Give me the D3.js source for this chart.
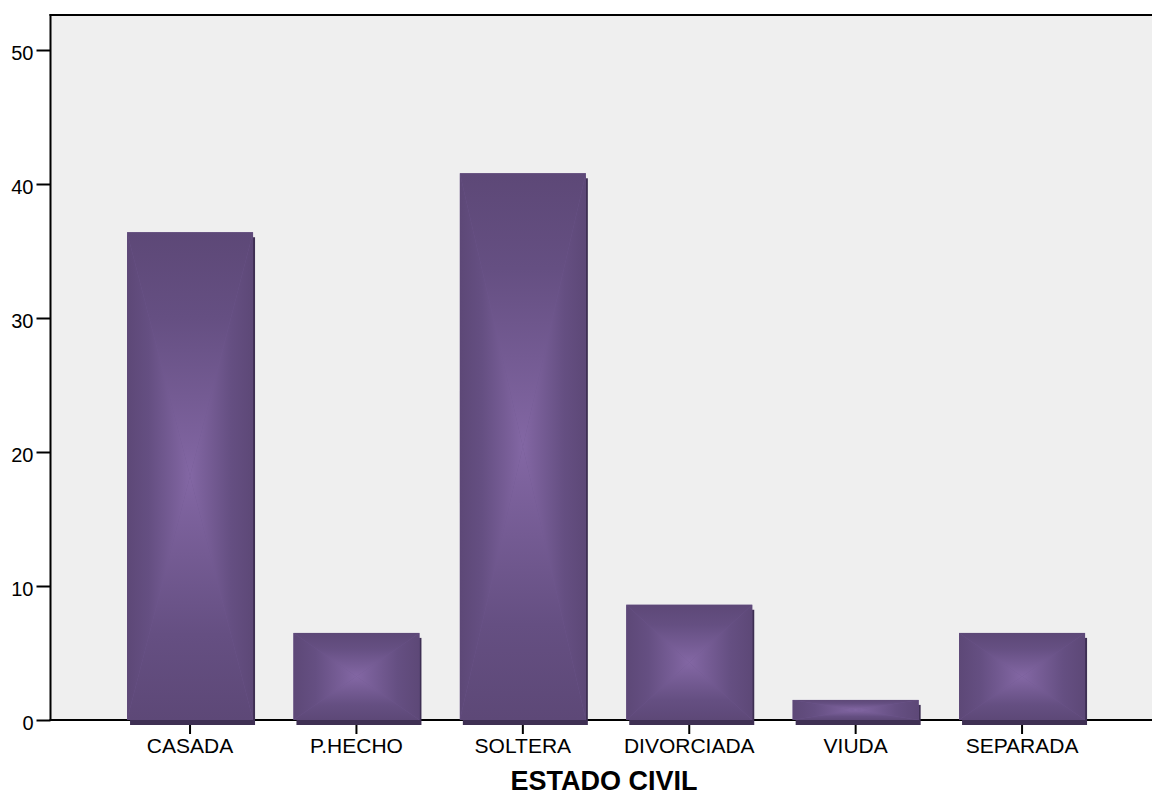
<!DOCTYPE html>
<html>
<head>
<meta charset="utf-8">
<script src="https://cdn.jsdelivr.net/npm/d3@7"></script>
<style>
  html, body { margin: 0; padding: 0; background: #ffffff; }
  svg { display: block; }
  text { font-family: Arial, "Liberation Sans", sans-serif; fill: #000; }
</style>
</head>
<body>
<svg id="chart" width="1152" height="796"></svg>
<script>
// Estado civil: percentage per category
const categories = ["CASADA", "P.HECHO", "SOLTERA", "DIVORCIADA", "VIUDA", "SEPARADA"];
const percentages = [36.4, 6.5, 40.8, 8.6, 1.5, 6.5];
const yTickValues = [0, 10, 20, 30, 40, 50];
const xTitle = "ESTADO CIVIL";

const svg = d3.select("#chart");

const plotLeft = 50.5, plotTop = 15, plotBottom = 720, plotRight = 1161.6, frameRight = 1160;

const x = d3.scaleBand()
  .domain(categories)
  .range([plotLeft, plotRight])
  .paddingInner(0.2428)
  .paddingOuter(0.46);

const y = d3.scaleLinear().domain([0, 50]).range([plotBottom, 50]);

// Pillow-style shading: four triangles, each fading from a dark edge to a light centre
const edgeColor = "#5d4877", midColor = "#6f5790", centerColor = "#8367a4", shadowColor = "#3e2f53";
const defs = svg.append("defs");
const dirs = {
  top:    { x1: 0, y1: 0, x2: 0, y2: 1 },
  bottom: { x1: 0, y1: 1, x2: 0, y2: 0 },
  left:   { x1: 0, y1: 0, x2: 1, y2: 0 },
  right:  { x1: 1, y1: 0, x2: 0, y2: 0 }
};
Object.entries(dirs).forEach(([name, d]) => {
  const g = defs.append("linearGradient")
    .attr("id", "shade-" + name)
    .attr("x1", d.x1).attr("y1", d.y1).attr("x2", d.x2).attr("y2", d.y2);
  g.append("stop").attr("offset", 0).attr("stop-color", edgeColor);
  g.append("stop").attr("offset", 0.35).attr("stop-color", "#654f82");
  g.append("stop").attr("offset", 1).attr("stop-color", centerColor);
});

// Plot background and frame
svg.append("rect")
  .attr("x", plotLeft).attr("y", plotTop)
  .attr("width", frameRight - plotLeft).attr("height", plotBottom - plotTop)
  .attr("fill", "#efefef");

svg.append("line")
  .attr("x1", plotLeft - 1).attr("x2", frameRight).attr("y1", plotTop).attr("y2", plotTop)
  .attr("stroke", "#000").attr("stroke-width", 2);

// Y axis
const yAxis = d3.axisLeft(y).tickValues(yTickValues).tickSize(14).tickPadding(3).tickFormat(d3.format("d"));
const yG = svg.append("g").attr("transform", `translate(${plotLeft},0)`).call(yAxis);
yG.select(".domain").remove();
yG.selectAll(".tick line").attr("stroke", "#000").attr("stroke-width", 2);
yG.selectAll(".tick text")
  .attr("font-size", 20).attr("font-family", "Arial, 'Liberation Sans', sans-serif")
  .attr("fill", "#000").attr("dy", "0.45em");

svg.append("line")
  .attr("x1", plotLeft).attr("x2", plotLeft).attr("y1", plotTop - 1).attr("y2", plotBottom + 1)
  .attr("stroke", "#000").attr("stroke-width", 2);

// X axis
const xAxis = d3.axisBottom(x).tickSize(14).tickPadding(4);
const xG = svg.append("g").attr("transform", `translate(0,${plotBottom})`).call(xAxis);
xG.select(".domain").remove();
xG.selectAll(".tick line").attr("stroke", "#000").attr("stroke-width", 2);
xG.selectAll(".tick text")
  .attr("font-size", 21).attr("font-family", "Arial, 'Liberation Sans', sans-serif")
  .attr("fill", "#000").attr("dy", "0.7em");

svg.append("line")
  .attr("x1", plotLeft - 1).attr("x2", frameRight).attr("y1", plotBottom).attr("y2", plotBottom)
  .attr("stroke", "#000").attr("stroke-width", 2);

// Bars
const data = categories.map((c, i) => ({ cat: c, value: percentages[i] }));
const bars = svg.append("g").selectAll("g.bar").data(data).join("g").attr("class", "bar");

bars.append("rect")
  .attr("x", d => x(d.cat) + 3)
  .attr("y", d => y(d.value) + 5)
  .attr("width", x.bandwidth() - 1)
  .attr("height", d => plotBottom - y(d.value))
  .attr("fill", shadowColor);

bars.append("rect")
  .attr("x", d => x(d.cat))
  .attr("y", d => y(d.value))
  .attr("width", x.bandwidth())
  .attr("height", d => plotBottom - y(d.value))
  .attr("fill", midColor);

function facets(d) {
  const L = x(d.cat), R = L + x.bandwidth(), T = y(d.value), B = y(0);
  const cx = (L + R) / 2, cy = (T + B) / 2;
  return [
    { name: "top",    pts: [[L, T], [R, T], [cx, cy]] },
    { name: "bottom", pts: [[L, B], [R, B], [cx, cy]] },
    { name: "left",   pts: [[L, T], [L, B], [cx, cy]] },
    { name: "right",  pts: [[R, T], [R, B], [cx, cy]] }
  ];
}

bars.selectAll("polygon").data(d => facets(d)).join("polygon")
  .attr("points", f => f.pts.map(p => p.join(",")).join(" "))
  .attr("fill", f => `url(#shade-${f.name})`);

// Axis title
svg.append("text")
  .attr("x", 604).attr("y", 790)
  .attr("text-anchor", "middle")
  .attr("font-size", 27).attr("font-weight", "bold")
  .text(xTitle);
</script>
</body>
</html>
